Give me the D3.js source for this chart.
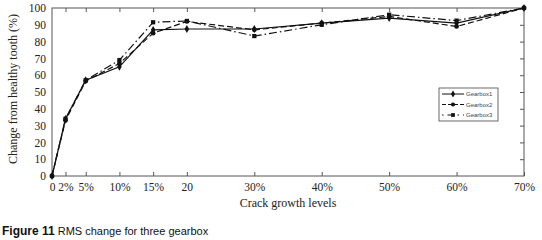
<!DOCTYPE html>
<html>
<head>
<meta charset="utf-8">
<script src="https://cdn.jsdelivr.net/npm/d3@7"></script>
<style>
  body { margin: 0; background: #fff; }
</style>
</head>
<body>
<div id="content"></div>
<script>
const levels = [0, 2, 5, 10, 15, 20, 30, 40, 50, 60, 70];
const tickLabels = ["0", "2%", "5%", "10%", "15%", "20", "30%", "40%", "50%", "60%", "70%"];
const gearbox1 = [0, 34, 57, 65, 87, 87.5, 87.5, 91, 94, 91, 100];
const gearbox2 = [0, 33, 56.5, 67, 85, 92, 87, 91, 95, 89, 100];
const gearbox3 = [0, 34, 57, 69, 91.5, 92.3, 83.3, 90, 96, 92.5, 100];
const yTicks = [0, 10, 20, 30, 40, 50, 60, 70, 80, 90, 100];

const W = 542, H = 240;
const svg = d3.select("#content").append("svg")
    .attr("width", W).attr("height", H)
    .style("font-family", "'Liberation Serif', 'DejaVu Serif', serif");

const x = d3.scaleLinear().domain([0, 70]).range([52, 524]);
const y = d3.scaleLinear().domain([0, 100]).range([176, 8]);
const axisColor = "#555";

// frame
svg.append("rect")
    .attr("x", x(0)).attr("y", y(100))
    .attr("width", x(70) - x(0)).attr("height", y(0) - y(100))
    .attr("fill", "none").attr("stroke", axisColor).attr("stroke-width", 1);

// bottom axis
const gx = svg.append("g").attr("transform", `translate(0,${y(0)})`)
    .call(d3.axisBottom(x).tickValues(levels).tickSize(-4)
        .tickPadding(7).tickFormat((d, i) => tickLabels[i]));
gx.select(".domain").remove();
gx.selectAll("line").attr("stroke", axisColor);
gx.selectAll("text").attr("font-size", 11.5).attr("fill", "#222")
    .attr("font-family", "'Liberation Serif', serif");

// top ticks
const gt = svg.append("g").attr("transform", `translate(0,${y(100)})`)
    .call(d3.axisTop(x).tickValues(levels.slice(1, -1)).tickSize(-4).tickFormat(""));
gt.select(".domain").remove();
gt.selectAll("line").attr("stroke", axisColor);

// left axis
const gy = svg.append("g").attr("transform", `translate(${x(0)},0)`)
    .call(d3.axisLeft(y).tickValues(yTicks).tickSize(0).tickPadding(6));
gy.select(".domain").remove();
gy.selectAll("text").attr("font-size", 11.5).attr("fill", "#222")
    .attr("font-family", "'Liberation Serif', serif");

// right ticks
const gr = svg.append("g").attr("transform", `translate(${x(70)},0)`)
    .call(d3.axisRight(y).tickValues(yTicks.slice(1, -1)).tickSize(-4).tickFormat(""));
gr.select(".domain").remove();
gr.selectAll("line").attr("stroke", axisColor);

// axis titles
svg.append("text")
    .attr("x", x(35)).attr("y", 207)
    .attr("text-anchor", "middle").attr("font-size", 12).attr("fill", "#222")
    .text("Crack growth levels");
svg.append("text")
    .attr("transform", `translate(17,${y(50) - 3}) rotate(-90)`)
    .attr("text-anchor", "middle").attr("font-size", 12).attr("fill", "#222")
    .text("Change from healthy tooth  (%)");

// series
const series = [
    { name: "Gearbox1", values: gearbox1, dash: null, marker: "diamond" },
    { name: "Gearbox2", values: gearbox2, dash: "6,3", marker: "circle" },
    { name: "Gearbox3", values: gearbox3, dash: "8,3,1.5,3", marker: "square" }
];
const symbolType = { diamond: d3.symbolDiamond, circle: d3.symbolCircle, square: d3.symbolSquare };

const line = d3.line().x((d, i) => x(levels[i])).y(d => y(d));
series.forEach(s => {
    svg.append("path")
        .attr("d", line(s.values))
        .attr("fill", "none").attr("stroke", "#111").attr("stroke-width", 1.2)
        .attr("stroke-dasharray", s.dash);
    svg.selectAll(null).data(s.values).enter().append("path")
        .attr("transform", (d, i) => `translate(${x(levels[i])},${y(d)})`)
        .attr("d", d3.symbol().type(symbolType[s.marker]).size(18))
        .attr("fill", "#111");
});

// legend
const lg = svg.append("g").attr("transform", "translate(439,88)");
lg.append("rect").attr("width", 59).attr("height", 33)
    .attr("fill", "#fff").attr("stroke", "#444").attr("stroke-width", 0.8);
series.forEach((s, i) => {
    const ly = 6 + i * 10.5;
    lg.append("line").attr("x1", 3).attr("x2", 25).attr("y1", ly).attr("y2", ly)
        .attr("stroke", "#111").attr("stroke-width", 1)
        .attr("stroke-dasharray", s.dash ? (i === 1 ? "4,2" : "1.5,4,6,4") : null);
    lg.append("path").attr("transform", `translate(14,${ly})`)
        .attr("d", d3.symbol().type(symbolType[s.marker]).size(14)).attr("fill", "#111");
    lg.append("text").attr("x", 27).attr("y", ly + 2)
        .attr("font-size", 6).attr("fill", "#444")
        .attr("font-family", "'Liberation Sans', sans-serif")
        .text(s.name);
});

// caption
const cap = svg.append("text").attr("x", 2).attr("y", 235)
    .attr("font-family", "'Liberation Sans', Arial, sans-serif").attr("fill", "#111");
cap.append("tspan").attr("font-weight", "bold").attr("font-size", 12).text("Figure 11");
cap.append("tspan").attr("font-size", 11).text(" RMS change for three gearbox");
</script>
</body>
</html>
